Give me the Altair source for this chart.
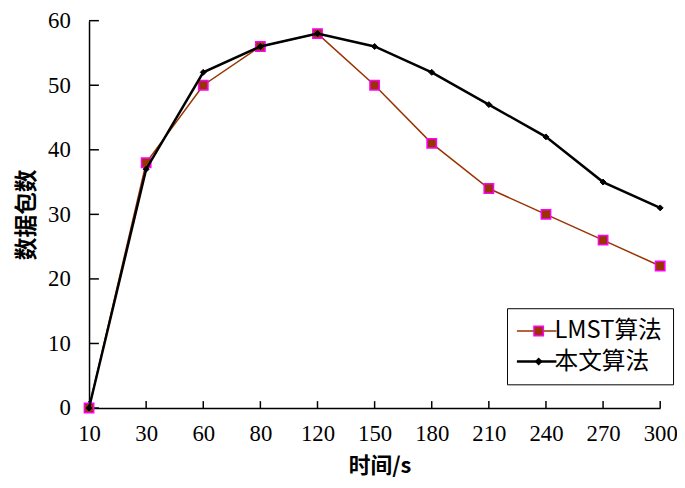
import altair as alt
import pandas as pd

times = ["10", "30", "60", "80", "120", "150", "180", "210", "240", "270", "300"]
lmst = [0, 38, 50, 56, 58, 50, 41, 34, 30, 26, 22]
ours = [0, 37, 52, 56, 58, 56, 52, 47, 42, 35, 31]
series_names = ["LMST算法", "本文算法"]
y_ticks = [0, 10, 20, 30, 40, 50, 60]

rows = []
for t, v in zip(times, lmst):
    rows.append({"t": t, "v": v, "s": series_names[0], "m": series_names[0]})
for t, v in zip(times, ours):
    rows.append({"t": t, "v": v, "s": series_names[1], "m": series_names[1]})
df = pd.DataFrame(rows)
ytick_df = pd.DataFrame({"t": [times[0]] * len(y_ticks), "v": y_ticks})
xtick_df = pd.DataFrame({"t": times, "v": [0] * len(times)})

NUM_FONT = "Liberation Serif"
CJK_FONT = "Noto Sans CJK SC"
IS_L = "datum.value === 'LMST算法'"

x_enc = alt.X(
    "t:O", sort=times,
    scale=alt.Scale(domain=times, type="point", padding=0),
    axis=alt.Axis(
        title="时间/s", labelAngle=0, ticks=False, grid=False,
        domainColor="black", domainWidth=1.5,
        labelFont=NUM_FONT, labelFontSize=23, labelColor="black", labelPadding=15,
        titleFont=CJK_FONT, titleFontSize=22, titleFontWeight="bold", titleColor="black",
        titleX=294, titleY=58, titleBaseline="middle", titleAlign="center",
    ),
)
y_enc = alt.Y(
    "v:Q",
    scale=alt.Scale(domain=[0, 60], nice=False, zero=True),
    axis=alt.Axis(
        title="数据包数", values=y_ticks, ticks=False, grid=False,
        domainColor="black", domainWidth=1.5,
        labelFont=NUM_FONT, labelFontSize=23, labelColor="black", labelPadding=19,
        titleFont=CJK_FONT, titleFontSize=23, titleFontWeight="bold", titleColor="black",
        titleAngle=270, titleX=-63, titleY=196, titleBaseline="middle", titleAlign="center",
    ),
)

color_enc = alt.Color(
    "s:N",
    scale=alt.Scale(range=["#993300", "black"]),
    legend=alt.Legend(
        title=None, orient="none", legendX=423, legendY=291,
        symbolType="stroke", symbolSize=1600, symbolOffset=7,
        symbolStrokeWidth=alt.ExprRef(expr=f"{IS_L} ? 1.5 : 2.5"),
        fillColor="white", strokeColor="black", padding=11,
        labelFont=CJK_FONT, labelFontSize=24, labelColor="black", labelOffset=6,
        rowPadding=7, zindex=0,
    ),
)
mk_legend = alt.Legend(
    title=None, orient="none", legendX=423, legendY=291, padding=11,
    symbolOffset=9,
    labelFont=CJK_FONT, labelFontSize=24, labelOpacity=0, labelOffset=6,
    rowPadding=7, zindex=1,
    symbolSize=alt.ExprRef(expr=f"{IS_L} ? 90 : 36"),
    symbolStrokeWidth=1.5, symbolOpacity=1,
)
shape_enc = alt.Shape("m:N", scale=alt.Scale(range=["square", "diamond"]), legend=mk_legend)
fill_enc = alt.Fill("m:N", scale=alt.Scale(range=["#993300", "black"]), legend=mk_legend)
stroke_enc = alt.Stroke("m:N", scale=alt.Scale(range=["#ff00ff", "black"]), legend=mk_legend)

base = alt.Chart(df)
line_l = base.transform_filter(alt.datum.s == series_names[0]).mark_line(strokeWidth=1.5).encode(
    x=x_enc, y=y_enc, color=color_enc)
pt_l = base.transform_filter(alt.datum.s == series_names[0]).mark_point(
    filled=True, strokeWidth=1.5, size=90, opacity=1
).encode(x=x_enc, y=y_enc, shape=shape_enc, fill=fill_enc, stroke=stroke_enc)
line_o = base.transform_filter(alt.datum.s == series_names[1]).mark_line(strokeWidth=2.5).encode(
    x=x_enc, y=y_enc, color=color_enc)
pt_o = base.transform_filter(alt.datum.s == series_names[1]).mark_point(
    filled=True, strokeWidth=1, size=36, opacity=1
).encode(x=x_enc, y=y_enc, shape=shape_enc, fill=fill_enc, stroke=stroke_enc)

ytick = alt.Chart(ytick_df).mark_tick(
    orient="horizontal", size=10, thickness=1.5, color="black", xOffset=5, opacity=1
).encode(x=x_enc, y=y_enc)
xtick = alt.Chart(xtick_df).mark_tick(
    orient="vertical", size=7, thickness=1.5, color="black", yOffset=-3.5, opacity=1
).encode(x=x_enc, y=y_enc)

chart = alt.layer(ytick, xtick, line_l, pt_l, line_o, pt_o).properties(
    width=578, height=392,
    autosize=alt.AutoSizeParams(type="none"),
    padding={"left": 82, "top": 10, "right": 17, "bottom": 70},
    background="white",
).configure_view(stroke=None)

chart.save("out.html", embed_options={"renderer": "svg", "actions": False})
